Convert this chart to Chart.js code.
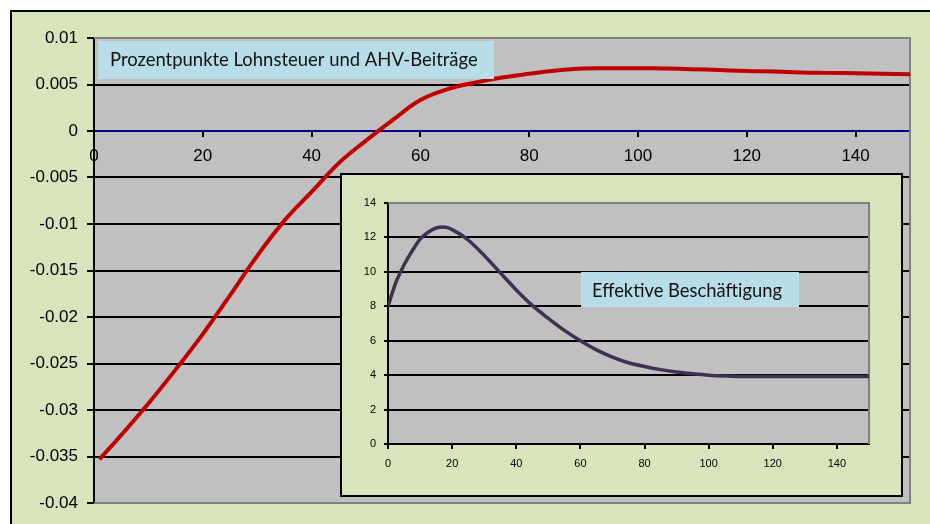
<!DOCTYPE html>
<html>
<head>
<meta charset="utf-8">
<script src="https://cdn.jsdelivr.net/npm/chart.js@4/dist/chart.umd.min.js"></script>
<style>
  html, body { margin: 0; padding: 0; background: #ffffff; overflow: hidden; }
  #wrap { position: relative; width: 930px; height: 524px; overflow: hidden; }
  #main { position: absolute; left: 0; top: 0; }
  #inset { position: absolute; left: 340px; top: 173px; }
</style>
</head>
<body>
<div id="wrap">
  <canvas id="main" width="930" height="524"></canvas>
  <canvas id="inset" width="563" height="324"></canvas>
</div>
<script>
// ---- Data ----
const mainTitle = "Prozentpunkte Lohnsteuer und AHV-Beiträge";
const insetTitle = "Effektive Beschäftigung";

const mainXValues = [1, 5, 10, 15, 20, 25, 30, 35, 40, 45, 50, 55, 60, 65, 70, 75, 80, 85, 90, 95, 100, 105, 110, 115, 120, 125, 130, 135, 140, 145, 150];
const mainSeries  = [-0.0353, -0.0327, -0.0293, -0.02566, -0.02184, -0.01768, -0.01342, -0.00964, -0.00655, -0.00345, -0.00104, 0.00122, 0.00333, 0.0045, 0.0052, 0.00575, 0.00615, 0.0065, 0.00672, 0.00675, 0.00675, 0.00672, 0.00665, 0.00655, 0.00645, 0.0064, 0.0063, 0.00625, 0.0062, 0.00615, 0.0061];
const mainXTicks = [0, 20, 40, 60, 80, 100, 120, 140];
const mainYTicks = [0.01, 0.005, 0, -0.005, -0.01, -0.015, -0.02, -0.025, -0.03, -0.035, -0.04];
const mainYTickLabels = ["0.01", "0.005", "0", "-0.005", "-0.01", "-0.015", "-0.02", "-0.025", "-0.03", "-0.035", "-0.04"];

const insetXValues = [0, 2.5, 5, 7.5, 10, 12.5, 15, 17.5, 20, 25, 30, 35, 40, 45, 50, 55, 60, 65, 70, 75, 80, 85, 90, 95, 100, 105, 110, 120, 130, 140, 150];
const insetSeries  = [8.0, 9.4, 10.4, 11.2, 11.9, 12.3, 12.55, 12.6, 12.45, 11.85, 10.95, 9.95, 8.95, 8.05, 7.3, 6.6, 6.0, 5.47, 5.05, 4.72, 4.5, 4.32, 4.18, 4.08, 4.0, 3.95, 3.92, 3.92, 3.92, 3.92, 3.92];
const insetXTicks = [0, 20, 40, 60, 80, 100, 120, 140];
const insetYTicks = [0, 2, 4, 6, 8, 10, 12, 14];
const insetYTickLabels = ["0", "2", "4", "6", "8", "10", "12", "14"];

// ---- Styles ----
const GREEN = "#d8e4bc";
const PLOT_GRAY = "#c0c0c0";
const EDGE_GRAY = "#808080";
const BOX_BLUE = "#b7dee8";
const TICK_FONT = "'Liberation Sans', Arial, sans-serif";
const BOX_FONT = "Lato, 'Open Sans', sans-serif";

Chart.defaults.font.family = TICK_FONT;
Chart.defaults.color = "#000";

function pairs(xs, ys) { return xs.map((x, i) => ({ x: x, y: ys[i] })); }
function labelFor(v, vals, labels) {
  let best = 0, bd = Infinity;
  vals.forEach((t, i) => { const d = Math.abs(t - v); if (d < bd) { bd = d; best = i; } });
  return labels[best];
}
function drawTextBox(ctx, x0, y0, x1, y1, text, tx0, tx1, cy) {
  ctx.save();
  ctx.fillStyle = BOX_BLUE;
  ctx.fillRect(x0, y0, x1 - x0, y1 - y0);
  ctx.font = "100px " + BOX_FONT;
  const w = ctx.measureText(text).width;
  const size = 100 * (tx1 - tx0) / w;
  ctx.font = size.toFixed(2) + "px " + BOX_FONT;
  ctx.fillStyle = "#111";
  ctx.textBaseline = "middle";
  ctx.textAlign = "left";
  ctx.fillText(text, tx0, cy);
  ctx.restore();
}

// ---- Main chart ----
const mainPlugin = {
  id: "mainDecor",
  beforeDraw(chart) {
    const ctx = chart.ctx, a = chart.chartArea;
    ctx.save();
    ctx.fillStyle = "#fff";
    ctx.fillRect(0, 0, chart.width, chart.height);
    ctx.fillStyle = GREEN;
    ctx.fillRect(11, 11, chart.width - 11, chart.height - 11);
    ctx.strokeStyle = "#000";
    ctx.lineWidth = 2;
    ctx.beginPath();
    ctx.moveTo(11, chart.height); ctx.lineTo(11, 11); ctx.lineTo(chart.width, 11);
    ctx.stroke();
    ctx.fillStyle = PLOT_GRAY;
    ctx.fillRect(a.left, a.top, a.right - a.left, a.bottom - a.top);
    ctx.restore();
  },
  beforeDatasetsDraw(chart) {
    const ctx = chart.ctx, a = chart.chartArea;
    ctx.save();
    ctx.strokeStyle = EDGE_GRAY;
    ctx.lineWidth = 2;
    ctx.beginPath();
    ctx.moveTo(a.left, a.top); ctx.lineTo(a.right, a.top); ctx.lineTo(a.right, a.bottom); ctx.lineTo(a.left, a.bottom);
    ctx.stroke();
    ctx.restore();
  },
  afterDatasetsDraw(chart) {
    drawTextBox(chart.ctx, 98, 41, 494, 79, mainTitle, 110, 478, 60);
  }
};

new Chart(document.getElementById("main"), {
  type: "line",
  data: {
    datasets: [{
      data: pairs(mainXValues, mainSeries),
      borderColor: "#c00000",
      borderWidth: 4,
      pointRadius: 0,
      tension: 0.4,
      fill: false
    }]
  },
  options: {
    responsive: false,
    devicePixelRatio: 1,
    animation: false,
    events: [],
    layout: { padding: { left: 0, top: 38, right: 20, bottom: 21 } },
    plugins: { legend: { display: false }, tooltip: { enabled: false } },
    scales: {
      x: {
        type: "linear",
        min: 0, max: 150,
        position: { y: 0 },
        afterBuildTicks: s => { s.ticks = mainXTicks.map(v => ({ value: v })); },
        grid: { drawOnChartArea: false, drawTicks: true, tickLength: 5, tickColor: "#000", tickWidth: 2, lineWidth: 2 },
        border: { color: "#000080", width: 2 },
        ticks: { font: { size: 17 }, color: "#000", padding: 10, maxRotation: 0, autoSkip: false }
      },
      y: {
        type: "linear",
        min: -0.04, max: 0.01,
        afterBuildTicks: s => { s.ticks = mainYTicks.map(v => ({ value: v })); },
        afterFit: s => { s.width = 94; },
        grid: {
          color: c => {
            const v = c.tick ? c.tick.value : null;
            if (v === null) return "#000";
            if (Math.abs(v) < 1e-9) return "rgba(0,0,0,0)";
            if (Math.abs(v - 0.01) < 1e-9 || Math.abs(v + 0.04) < 1e-9) return EDGE_GRAY;
            return "#000";
          },
          lineWidth: 2,
          tickLength: 7,
          tickColor: "#000",
          tickWidth: 2
        },
        border: { color: "#000", width: 2 },
        ticks: {
          font: { size: 17 }, color: "#000", padding: 9,
          callback: v => labelFor(v, mainYTicks, mainYTickLabels)
        }
      }
    }
  },
  plugins: [mainPlugin]
});

// ---- Inset chart ----
const insetPlugin = {
  id: "insetDecor",
  beforeDraw(chart) {
    const ctx = chart.ctx, a = chart.chartArea;
    ctx.save();
    ctx.fillStyle = GREEN;
    ctx.fillRect(0, 0, chart.width, chart.height);
    ctx.strokeStyle = "#000";
    ctx.lineWidth = 2;
    ctx.strokeRect(1, 1, chart.width - 2, chart.height - 2);
    ctx.fillStyle = PLOT_GRAY;
    ctx.fillRect(a.left, a.top, a.right - a.left, a.bottom - a.top);
    ctx.restore();
  },
  beforeDatasetsDraw(chart) {
    const ctx = chart.ctx, a = chart.chartArea;
    ctx.save();
    ctx.strokeStyle = EDGE_GRAY;
    ctx.lineWidth = 2;
    ctx.beginPath();
    ctx.moveTo(a.left, a.top); ctx.lineTo(a.right, a.top); ctx.lineTo(a.right, a.bottom);
    ctx.stroke();
    ctx.restore();
  },
  afterDatasetsDraw(chart) {
    drawTextBox(chart.ctx, 241, 99, 459, 134, insetTitle, 252, 442, 118);
  }
};

new Chart(document.getElementById("inset"), {
  type: "line",
  data: {
    datasets: [{
      data: pairs(insetXValues, insetSeries),
      borderColor: "#3f3151",
      borderWidth: 3.5,
      pointRadius: 0,
      cubicInterpolationMode: "monotone",
      fill: false
    }]
  },
  options: {
    responsive: false,
    devicePixelRatio: 1,
    animation: false,
    events: [],
    layout: { padding: { left: 0, top: 30, right: 34, bottom: 53 } },
    plugins: { legend: { display: false }, tooltip: { enabled: false } },
    scales: {
      x: {
        type: "linear",
        min: 0, max: 150,
        position: { y: 0 },
        afterBuildTicks: s => { s.ticks = insetXTicks.map(v => ({ value: v })); },
        grid: { drawOnChartArea: false, drawTicks: true, tickLength: 4, tickColor: "#000", tickWidth: 2, lineWidth: 2 },
        border: { color: "#000", width: 2 },
        ticks: { font: { size: 11 }, color: "#000", padding: 9, maxRotation: 0, autoSkip: false }
      },
      y: {
        type: "linear",
        min: 0, max: 14,
        afterBuildTicks: s => { s.ticks = insetYTicks.map(v => ({ value: v })); },
        afterFit: s => { s.width = 48; },
        grid: {
          color: c => {
            const v = c.tick ? c.tick.value : null;
            if (v === 0) return "rgba(0,0,0,0)";
            if (v === 14) return EDGE_GRAY;
            return "#000";
          },
          lineWidth: 2,
          tickLength: 4,
          tickColor: "#000",
          tickWidth: 2
        },
        border: { color: "#000", width: 2 },
        ticks: {
          font: { size: 11 }, color: "#000", padding: 8,
          callback: v => labelFor(v, insetYTicks, insetYTickLabels)
        }
      }
    }
  },
  plugins: [insetPlugin]
});
</script>
</body>
</html>
